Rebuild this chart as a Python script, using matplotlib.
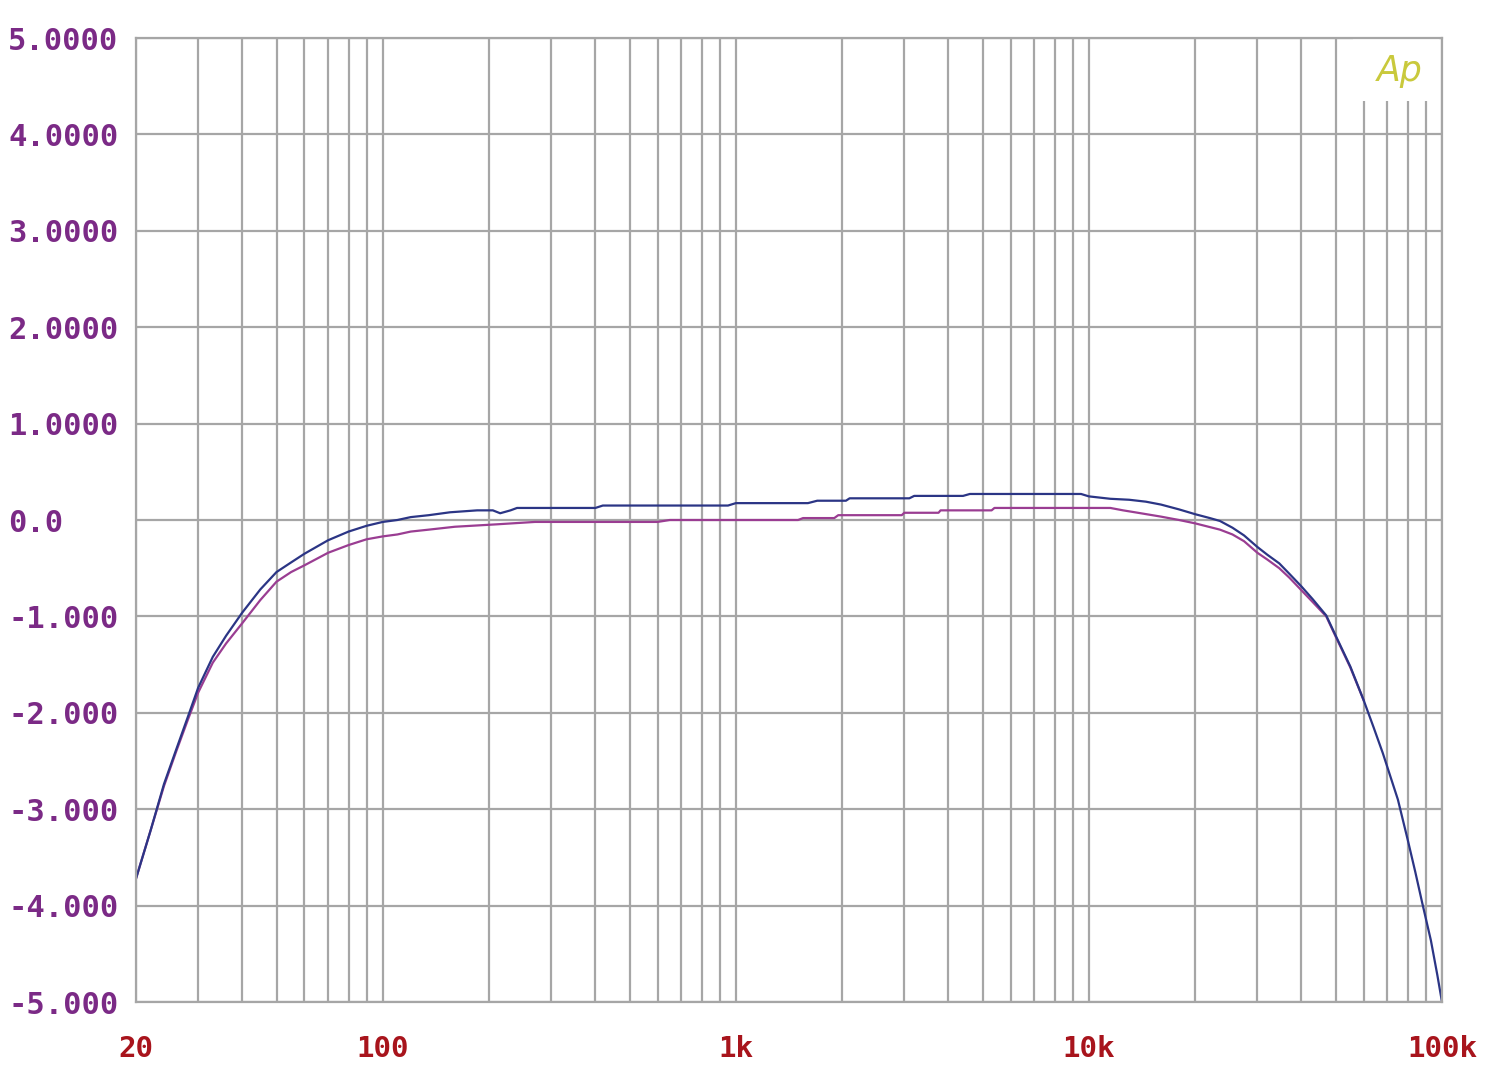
import matplotlib
matplotlib.use("Agg")
import matplotlib.pyplot as plt
from matplotlib.patches import Rectangle

# ---- data ----
blue_freq = [20, 22, 24, 26, 28, 30, 33, 36, 40, 45, 50, 55, 60, 70, 80, 90, 100,
             110, 120, 135, 155, 185, 205, 215, 230, 240, 400, 420, 950, 1000, 1600,
             1700, 2050, 2100, 3100, 3200, 4400, 4600, 9500, 10000, 11500, 13000,
             14500, 16000, 18000, 20000, 22000, 23500, 25500, 27500, 30000, 32000,
             34600, 37000, 40000, 43000, 47000, 50000, 55000, 60000, 64000, 68000,
             72000, 75000, 80000, 84000, 88000, 93000, 97000, 100000]
blue_db = [-3.72, -3.22, -2.74, -2.38, -2.05, -1.74, -1.42, -1.20, -0.96, -0.72,
           -0.54, -0.44, -0.35, -0.21, -0.12, -0.06, -0.02, 0.0, 0.03, 0.05, 0.08,
           0.10, 0.10, 0.07, 0.10, 0.125, 0.125, 0.15, 0.15, 0.175, 0.175, 0.20,
           0.20, 0.225, 0.225, 0.25, 0.25, 0.27, 0.27, 0.245, 0.22, 0.21, 0.19,
           0.16, 0.11, 0.06, 0.02, -0.01, -0.08, -0.16, -0.28, -0.36, -0.45, -0.56,
           -0.69, -0.82, -0.99, -1.20, -1.52, -1.87, -2.15, -2.42, -2.70, -2.90,
           -3.32, -3.65, -3.98, -4.36, -4.72, -5.0]

pink_freq = [20, 22, 24, 26, 28, 30, 33, 36, 40, 45, 50, 55, 60, 70, 80, 90, 100,
             110, 120, 135, 160, 210, 270, 600, 650, 1500, 1550, 1900, 1950, 2950,
             3000, 3750, 3800, 5300, 5400, 11500, 12500, 13500, 16000, 18000, 20000,
             23500, 25500, 27500, 30000, 32000, 34600, 37000, 40000, 43000, 47000,
             50000, 55000, 60000]
pink_db = [-3.72, -3.22, -2.76, -2.40, -2.08, -1.79, -1.48, -1.28, -1.07, -0.83,
           -0.64, -0.54, -0.47, -0.34, -0.26, -0.20, -0.17, -0.15, -0.12, -0.10,
           -0.07, -0.045, -0.02, -0.02, 0.0, 0.0, 0.02, 0.02, 0.05, 0.05, 0.075,
           0.075, 0.10, 0.10, 0.125, 0.125, 0.10, 0.08, 0.035, 0.0, -0.035, -0.10,
           -0.15, -0.22, -0.34, -0.41, -0.50, -0.60, -0.73, -0.85, -1.0, -1.21,
           -1.53, -1.87]

x_major = [20, 100, 1000, 10000, 100000]
x_labels = ["20", "100", "1k", "10k", "100k"]
y_ticks = [5, 4, 3, 2, 1, 0, -1, -2, -3, -4, -5]
y_labels = ["5.0000", "4.0000", "3.0000", "2.0000", "1.0000", "0.0",
            "-1.000", "-2.000", "-3.000", "-4.000", "-5.000"]

# ---- figure ----
W, H, DPI = 1500, 1072, 100
fig = plt.figure(figsize=(W / DPI, H / DPI), dpi=DPI)
fig.patch.set_facecolor("white")
ax = fig.add_axes([136 / W, 1 - 1002 / H, (1442 - 136) / W, (1002 - 38) / H])

grid_col = "#a6a6a6"
ax.set_xscale("log")
ax.set_xlim(20, 100000)
ax.set_ylim(-5, 5)

minor = [m * 10 ** d for d in range(1, 5) for m in range(2, 10)]
minor = [v for v in minor if 20 < v < 100000 and v not in x_major]
ax.set_xticks(minor, minor=True)
ax.set_xticks(x_major, x_labels)
ax.set_yticks(y_ticks, y_labels)

ax.grid(which="both", axis="x", color=grid_col, linewidth=1.6)
ax.grid(which="major", axis="y", color=grid_col, linewidth=1.6)
ax.set_axisbelow(True)
for s in ax.spines.values():
    s.set_color(grid_col)
    s.set_linewidth(1.6)

ax.tick_params(which="both", length=0)
ax.tick_params(axis="y", pad=92)
ax.tick_params(axis="x", pad=24)
for t in ax.get_yticklabels():
    t.set_fontfamily("DejaVu Sans Mono")
    t.set_fontweight("bold")
    t.set_fontsize(22)
    t.set_color("#7b2a86")
    t.set_horizontalalignment("left")
for t in ax.get_xticklabels():
    t.set_fontfamily("DejaVu Sans Mono")
    t.set_fontweight("bold")
    t.set_fontsize(21)
    t.set_color("#a8141c")

# Ap logo box masking the grid
ax.add_patch(Rectangle((0.932, 0.935), 0.066, 0.064, transform=ax.transAxes,
                       facecolor="white", edgecolor="none", zorder=1.5))
ax.text(0.968, 0.966, "Ap", transform=ax.transAxes, ha="center", va="center",
        fontsize=25, style="italic", color="#c9c93c", fontfamily="DejaVu Sans",
        zorder=3)

ax.plot(pink_freq, pink_db, color="#9a3d92", linewidth=1.6, zorder=2)
ax.plot(blue_freq, blue_db, color="#2b3585", linewidth=1.6, zorder=2.1)

fig.savefig("out.png", dpi=DPI, facecolor="white")
